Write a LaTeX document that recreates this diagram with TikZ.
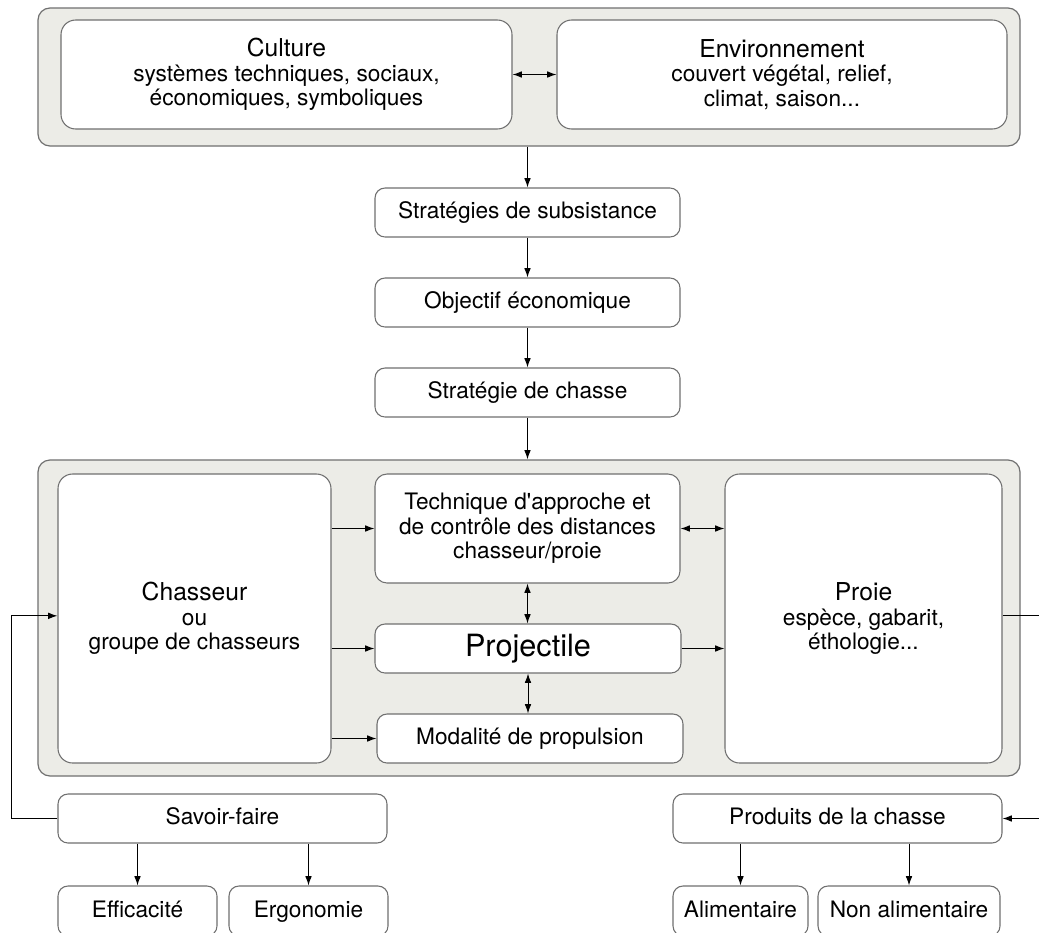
\documentclass[tikz,border=0pt]{standalone}
\usepackage{fontspec}
\setmainfont{TeX Gyre Heros}[Ligatures=TeXOff]
\usetikzlibrary{arrows.meta}
\definecolor{framegrey}{RGB}{236,236,231}
\definecolor{edgegrey}{RGB}{112,112,112}
\newcommand{\boxtitle}[1]{{\fontsize{18.5}{20}\selectfont #1}}

\begin{document}
\begin{tikzpicture}[x=0.75pt,y=-0.75pt,
  every node/.style={align=center, inner sep=0pt, font=\fontsize{17}{18.5}\selectfont},
  frame/.style={draw=edgegrey, fill=framegrey, line width=0.9pt, rounded corners=9pt},
  bigbox/.style={draw=edgegrey, fill=white, line width=0.8pt, rounded corners=11pt},
  smallbox/.style={draw=edgegrey, fill=white, line width=0.8pt, rounded corners=7.5pt, minimum height=36.75pt, text height=12.5pt, text depth=3.5pt},
  link/.style={line width=0.75pt, -{Latex[length=7pt,width=5pt]}},
  twoway/.style={line width=0.75pt, {Latex[length=7pt,width=5pt]}-{Latex[length=7pt,width=5pt]}}]
\useasboundingbox (0,0) rectangle (1039,932);
\clip (0,0) rectangle (1039,932);
\fill[white] (0,0) rectangle (1039,932);
\node[frame, minimum width=736.5pt, minimum height=103.5pt] (topframe) at (529,77) {};
\node[frame, minimum width=736.5pt, minimum height=237pt] (botframe) at (529,618) {};
\node[bigbox, minimum width=338.25pt, minimum height=81.75pt] (culture) at (286.5,74.5)
  {\boxtitle{Culture}\\systèmes techniques, sociaux,\\économiques, symboliques};
\node[bigbox, minimum width=337.5pt, minimum height=81.75pt] (env) at (782,74.5)
  {\boxtitle{Environnement}\\couvert végétal, relief,\\climat, saison...};
\node[smallbox, minimum width=228.75pt] (subsist) at (527.5,212.5) {Stratégies de subsistance};
\node[smallbox, minimum width=228.75pt] (objectif) at (527.5,302.5) {Objectif économique};
\node[smallbox, minimum width=228.75pt] (strategie) at (527.5,392.5) {Stratégie de chasse};
\node[bigbox, minimum width=204.75pt, minimum height=216.75pt] (chasseur) at (194.5,618.5)
  {\boxtitle{Chasseur}\\ou\\groupe de chasseurs};
\node[bigbox, rounded corners=9pt, minimum width=228.75pt, minimum height=81.75pt] (technique) at (527.5,528.5)
  {Technique d'approche et\\de contrôle des distances\\chasseur/proie};
\node[smallbox, minimum width=229.5pt, text height=16.5pt, text depth=5pt, font=\fontsize{23}{25}\selectfont] (projectile) at (528,648.5) {Projectile};
\node[smallbox, minimum width=229.5pt] (modalite) at (530,738.5) {Modalité de propulsion};
\node[bigbox, minimum width=207.75pt, minimum height=216.75pt] (proie) at (863.5,618.5)
  {\boxtitle{Proie}\\espèce, gabarit,\\éthologie...};
\node[smallbox, minimum width=246.75pt] (savoir) at (222.5,818.5) {Savoir-faire};
\node[smallbox, minimum width=246.75pt] (produits) at (837.5,818.5) {Produits de la chasse};
\node[smallbox, minimum width=119.25pt, minimum height=37.5pt] (effic) at (137.5,911) {Efficacité};
\node[smallbox, minimum width=119.25pt, minimum height=37.5pt] (ergo) at (308.5,911) {Ergonomie};
\node[smallbox, minimum width=101.25pt, minimum height=37.5pt] (alim) at (740.5,911) {Alimentaire};
\node[smallbox, minimum width=136.5pt, minimum height=37.5pt] (nonalim) at (909,911) {Non alimentaire};

\draw[twoway] (culture.east) -- (env.west);
\draw[link] (topframe.south -| subsist) -- (subsist.north);
\draw[link] (subsist) -- (objectif);
\draw[link] (objectif) -- (strategie);
\draw[link] (strategie.south) -- (strategie.south |- botframe.north);
\draw[link] (chasseur.east |- technique) -- (technique.west);
\draw[link] (chasseur.east |- projectile) -- (projectile.west);
\draw[link] (chasseur.east |- modalite) -- (modalite.west);
\draw[twoway] (technique.east) -- (technique.east -| proie.west);
\draw[link] (projectile.east) -- (projectile.east -| proie.west);
\draw[twoway] (technique.south) -- (technique.south |- projectile.north);
\draw[twoway] (projectile.south) -- (projectile.south |- modalite.north);
\draw[link] (savoir.west) -- ++(-46,0) |- ([yshift=2pt]chasseur.west);
\draw[link] ([yshift=2pt]proie.east) -- ++(50,0) |- (produits.east);
\draw[link] (effic.north |- savoir.south) -- (effic.north);
\draw[link] (ergo.north |- savoir.south) -- (ergo.north);
\draw[link] (alim.north |- produits.south) -- (alim.north);
\draw[link] (nonalim.north |- produits.south) -- (nonalim.north);
\end{tikzpicture}
\end{document}
